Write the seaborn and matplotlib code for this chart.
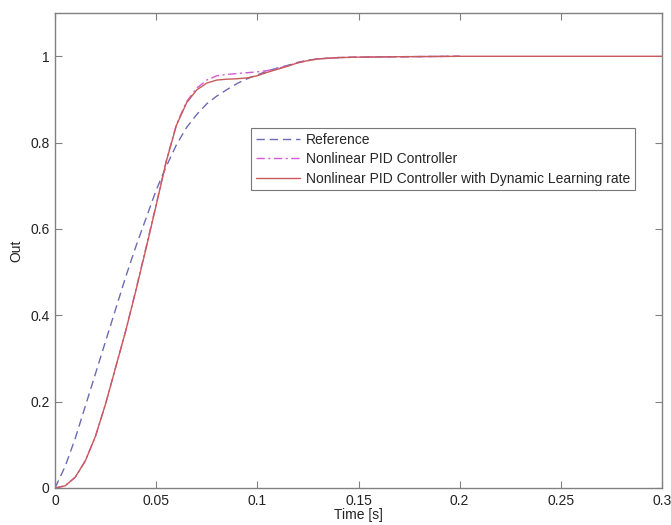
import numpy as np
import pandas as pd
import matplotlib
matplotlib.use("Agg")
import matplotlib.pyplot as plt
import seaborn as sns

# time samples [s]
t_ref = [0, .005, .01, .015, .02, .025, .03, .035, .04, .045, .05, .055, .06, .065,
         .07, .075, .08, .085, .09, .095, .1, .105, .11, .115, .12, .125, .13, .14,
         .15, .17, .2]
reference = [0, .05, .115, .19, .265, .34, .415, .49, .56, .625, .69, .745, .795,
             .835, .865, .89, .908, .923, .937, .948, .957, .966, .973, .979, .986,
             .991, .994, .997, .998, .999, 1]

t_pid = [0, .005, .01, .015, .02, .025, .03, .035, .04, .045, .05, .055, .06, .065,
         .07, .075, .08, .085, .09, .095, .1, .105, .11, .115, .12, .125, .13, .14,
         .15, .17, .2]
nl_pid = [0, .005, .025, .063, .12, .195, .28, .365, .46, .558, .657, .758, .842,
          .895, .926, .945, .955, .958, .96, .962, .964, .967, .972, .978, .985,
          .99, .994, .997, .998, .999, 1]

t_dyn = [0, .005, .01, .015, .02, .025, .03, .035, .04, .045, .05, .055, .06, .065,
         .07, .075, .08, .085, .09, .095, .1, .105, .11, .115, .12, .125, .13, .14,
         .15, .17, .2, .25, .3]
nl_pid_dyn = [0, .005, .025, .063, .12, .195, .28, .365, .458, .555, .655, .757, .84,
              .892, .922, .938, .945, .947, .948, .95, .955, .963, .97, .977, .985,
              .99, .994, .997, .998, .999, 1, 1, 1]

labels = ["Reference", "Nonlinear PID Controller",
          "Nonlinear PID Controller with Dynamic Learning rate"]

sns.set_style("white")
plt.rcParams["font.family"] = ["Liberation Sans", "DejaVu Sans"]

fig = plt.figure(figsize=(6.71, 5.25), dpi=100)
ax = fig.add_axes([0.082, 0.0705, 0.9046, 0.9045])

sns.lineplot(x=t_ref, y=reference, ax=ax, color="#6b6bb5", lw=1.0,
             linestyle=(0, (6, 3.5)), label=labels[0])
sns.lineplot(x=t_pid, y=nl_pid, ax=ax, color="#d45ad4", lw=1.0,
             linestyle=(0, (6, 2.5, 1.5, 2.5)), label=labels[1])
sns.lineplot(x=t_dyn, y=nl_pid_dyn, ax=ax, color="#c95a5a", lw=1.0,
             label=labels[2])

ax.set_xlim(0, 0.3)
ax.set_ylim(0, 1.1)
ax.set_xticks([0, 0.05, 0.1, 0.15, 0.2, 0.25, 0.3])
ax.set_xticklabels(["0", "0.05", "0.1", "0.15", "0.2", "0.25", "0.3"])
ax.set_yticks([0, 0.2, 0.4, 0.6, 0.8, 1])
ax.set_yticklabels(["0", "0.2", "0.4", "0.6", "0.8", "1"])
ax.tick_params(direction="in", length=5, width=0.8, color="#808080",
               labelsize=10, labelcolor="#222222", top=True, right=True,
               bottom=True, left=True, pad=4)
for s in ax.spines.values():
    s.set_color("#808080")
    s.set_linewidth(1.0)

ax.set_xlabel("Time [s]", fontsize=10, labelpad=0, color="#222222")
ax.set_ylabel("Out", fontsize=10, labelpad=5, color="#222222")

leg = ax.legend(loc="upper left", bbox_to_anchor=(0.374, 0.756),
                bbox_transform=fig.transFigure, fontsize=10, frameon=True,
                fancybox=False, edgecolor="#555555", borderaxespad=0,
                handlelength=3.2, borderpad=0.35, labelspacing=0.38,
                handletextpad=0.4)
leg.get_frame().set_linewidth(0.8)

fig.savefig("out.png", dpi=100)
